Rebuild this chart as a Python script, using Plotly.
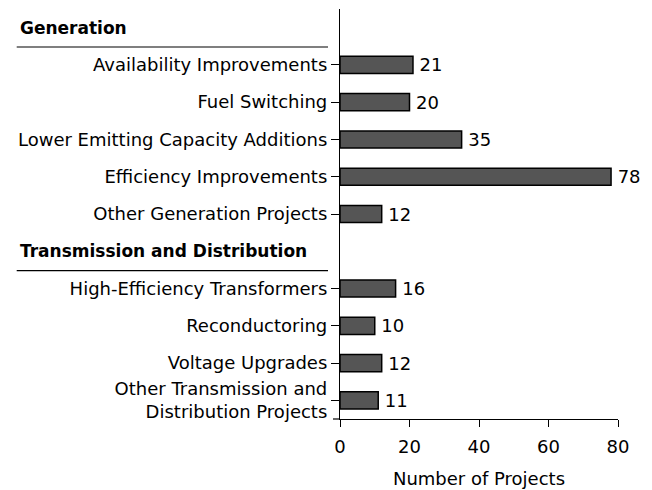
import plotly.graph_objects as go

# project counts by category
gen_labels = ["Availability Improvements", "Fuel Switching",
              "Lower Emitting Capacity Additions", "Efficiency Improvements",
              "Other Generation Projects"]
gen_values = [21, 20, 35, 78, 12]

td_labels = ["High-Efficiency Transformers", "Reconductoring",
             "Voltage Upgrades",
             "Other Transmission and<br>Distribution Projects"]
td_values = [16, 10, 12, 11]

x_ticks = [0, 20, 40, 60, 80]

# header rows in the category axis (no bar drawn there)
gen_hdr = "Generation"
td_hdr = "Transmission and Distribution"

order = [gen_hdr] + gen_labels + [td_hdr] + td_labels
labels = gen_labels + td_labels
values = gen_values + td_values

FONT = "DejaVu Sans, Arial, sans-serif"
FS = 18

FW, FH = 652, 490
L, R, T, B = 340, 34, 9, 71
W = FW - L - R


def px_to_paper(px):
    return (px - L) / W


fig = go.Figure()
fig.add_trace(go.Bar(
    x=values, y=labels, orientation="h",
    marker=dict(color="#555555", line=dict(color="black", width=1.5)),
    text=["\u2009" + str(v) for v in values], textposition="outside",
    textfont=dict(size=FS, color="black", family=FONT),
    constraintext="none", cliponaxis=False, width=0.46,
))

for hdr, idx in [(gen_hdr, 0), (td_hdr, 6)]:
    fig.add_annotation(x=px_to_paper(18), xref="paper", y=hdr, yref="y",
                       text="<b>" + hdr + "</b>", showarrow=False,
                       xanchor="left", yanchor="middle",
                       font=dict(size=17, color="black", family=FONT))
    fig.add_shape(type="line", xref="paper", yref="y",
                  x0=px_to_paper(16.7), x1=px_to_paper(328),
                  y0=idx + 0.52, y1=idx + 0.52,
                  line=dict(color="black", width=1.2))

# small tick where the x axis meets the y axis
fig.add_shape(type="line", xref="paper", yref="paper",
              x0=px_to_paper(L - 7), x1=0, y0=0, y1=0,
              line=dict(color="black", width=1.2))

fig.update_yaxes(categoryorder="array", categoryarray=order,
                 autorange=False, range=[len(order) - 0.5, -0.5],
                 tickmode="array", tickvals=labels,
                 ticktext=labels, ticks="outside", ticklen=8, tickcolor="black",
                 showline=True, linecolor="black", linewidth=1.2,
                 showgrid=False, tickfont=dict(size=FS, color="black"),
                 automargin=False)
fig.update_xaxes(range=[0, 80], autorange=False, tickvals=x_ticks,
                 ticks="outside", ticklen=7,
                 tickcolor="black", showline=True, linecolor="black",
                 linewidth=1.2, showgrid=False, zeroline=False,
                 ticklabelstandoff=4,
                 tickfont=dict(size=FS, color="black"), automargin=False,
                 title=dict(text="Number of Projects",
                            font=dict(size=FS, color="black"), standoff=16))
fig.update_layout(width=FW, height=FH, margin=dict(l=L, r=R, t=T, b=B),
                  plot_bgcolor="white", paper_bgcolor="white",
                  font=dict(family=FONT, color="black"), showlegend=False)

# drop the browser's default body margin so the figure sits at (0, 0)
fig.write_html("out.html", config={"displayModeBar": False},
               post_script="document.body.style.margin='0';"
                           "document.body.style.overflow='hidden';")
